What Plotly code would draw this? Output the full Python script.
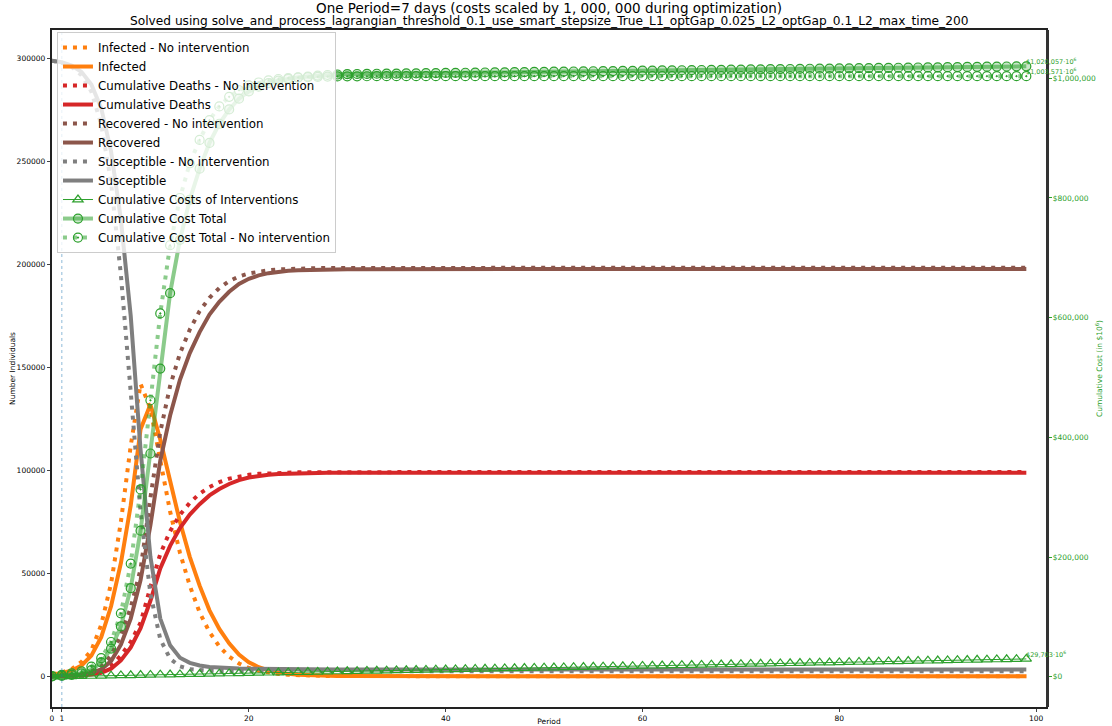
import plotly.graph_objects as go

periods = list(range(100))

susceptible = [
    299000, 298300, 296700, 293600, 287500, 276000, 255000, 222000, 175000, 110000,
    58000, 28000, 15000, 9000, 6500, 5200, 4500, 4100, 3850, 3700,
    3600, 3520, 3460, 3420, 3390, 3370, 3350, 3340, 3330, 3320,
    3310, 3305, 3300, 3300, 3300, 3300, 3300, 3300, 3300, 3300,
    3300, 3300, 3300, 3300, 3300, 3300, 3300, 3300, 3300, 3300,
    3300, 3300, 3300, 3300, 3300, 3300, 3300, 3300, 3300, 3300,
    3300, 3300, 3300, 3300, 3300, 3300, 3300, 3300, 3300, 3300,
    3300, 3300, 3300, 3300, 3300, 3300, 3300, 3300, 3300, 3300,
    3300, 3300, 3300, 3300, 3300, 3300, 3300, 3300, 3300, 3300,
    3300, 3300, 3300, 3300, 3300, 3300, 3300, 3300, 3300, 3300,
]
infected = [
    1000, 1500, 2800, 5200, 10000, 19000, 34000, 55000, 83000, 120000,
    132000, 115000, 95000, 75000, 58000, 44000, 32000, 23000, 16000, 10500,
    6800, 4400, 2800, 1800, 1150, 750, 480, 310, 200, 130,
    85, 55, 35, 22, 14, 9, 6, 4, 3, 2,
    1, 0, 0, 0, 0, 0, 0, 0, 0, 0,
    0, 0, 0, 0, 0, 0, 0, 0, 0, 0,
    0, 0, 0, 0, 0, 0, 0, 0, 0, 0,
    0, 0, 0, 0, 0, 0, 0, 0, 0, 0,
    0, 0, 0, 0, 0, 0, 0, 0, 0, 0,
    0, 0, 0, 0, 0, 0, 0, 0, 0, 0,
]
deaths = [
    0, 67, 167, 400, 833, 1667, 3667, 7667, 14000, 23333,
    36667, 52333, 63333, 72000, 78500, 83600, 87833, 90967, 93383, 95267,
    96533, 97360, 97913, 98260, 98487, 98627, 98723, 98783, 98823, 98850,
    98868, 98880, 98888, 98893, 98895, 98897, 98898, 98899, 98900, 98900,
    98900, 98900, 98900, 98900, 98900, 98900, 98900, 98900, 98900, 98900,
    98900, 98900, 98900, 98900, 98900, 98900, 98900, 98900, 98900, 98900,
    98900, 98900, 98900, 98900, 98900, 98900, 98900, 98900, 98900, 98900,
    98900, 98900, 98900, 98900, 98900, 98900, 98900, 98900, 98900, 98900,
    98900, 98900, 98900, 98900, 98900, 98900, 98900, 98900, 98900, 98900,
    98900, 98900, 98900, 98900, 98900, 98900, 98900, 98900, 98900, 98900,
]
recovered = [
    0, 133, 333, 800, 1667, 3333, 7333, 15333, 28000, 46667,
    73333, 104667, 126667, 144000, 157000, 167200, 175667, 181933, 186767, 190533,
    193067, 194720, 195827, 196520, 196973, 197253, 197447, 197567, 197647, 197700,
    197737, 197760, 197777, 197785, 197791, 197795, 197797, 197798, 197799, 197800,
    197800, 197800, 197800, 197800, 197800, 197800, 197800, 197800, 197800, 197800,
    197800, 197800, 197800, 197800, 197800, 197800, 197800, 197800, 197800, 197800,
    197800, 197800, 197800, 197800, 197800, 197800, 197800, 197800, 197800, 197800,
    197800, 197800, 197800, 197800, 197800, 197800, 197800, 197800, 197800, 197800,
    197800, 197800, 197800, 197800, 197800, 197800, 197800, 197800, 197800, 197800,
    197800, 197800, 197800, 197800, 197800, 197800, 197800, 197800, 197800, 197800,
]
susceptible_no = [
    299000, 298000, 296000, 292000, 284000, 268000, 240000, 195000, 138000, 80000,
    40000, 18000, 8500, 4800, 3400, 2900, 2700, 2600, 2550, 2500,
    2480, 2460, 2450, 2440, 2430, 2420, 2410, 2410, 2400, 2400,
    2400, 2400, 2400, 2400, 2400, 2400, 2400, 2400, 2400, 2400,
    2400, 2400, 2400, 2400, 2400, 2400, 2400, 2400, 2400, 2400,
    2400, 2400, 2400, 2400, 2400, 2400, 2400, 2400, 2400, 2400,
    2400, 2400, 2400, 2400, 2400, 2400, 2400, 2400, 2400, 2400,
    2400, 2400, 2400, 2400, 2400, 2400, 2400, 2400, 2400, 2400,
    2400, 2400, 2400, 2400, 2400, 2400, 2400, 2400, 2400, 2400,
    2400, 2400, 2400, 2400, 2400, 2400, 2400, 2400, 2400, 2400,
]
infected_no = [
    1000, 1800, 3500, 7000, 12500, 25000, 45000, 75000, 112000, 142000,
    130000, 104000, 80000, 60000, 44000, 31000, 21500, 14500, 9500, 6200,
    4000, 2600, 1700, 1100, 700, 450, 300, 190, 120, 80,
    50, 30, 20, 12, 8, 5, 3, 2, 1, 0,
    0, 0, 0, 0, 0, 0, 0, 0, 0, 0,
    0, 0, 0, 0, 0, 0, 0, 0, 0, 0,
    0, 0, 0, 0, 0, 0, 0, 0, 0, 0,
    0, 0, 0, 0, 0, 0, 0, 0, 0, 0,
    0, 0, 0, 0, 0, 0, 0, 0, 0, 0,
    0, 0, 0, 0, 0, 0, 0, 0, 0, 0,
]
deaths_no = [
    0, 67, 167, 333, 1167, 2333, 5000, 10000, 16667, 26000,
    43333, 59333, 70500, 78400, 84200, 88700, 91933, 94300, 95983, 97100,
    97840, 98313, 98617, 98820, 98957, 99043, 99097, 99133, 99160, 99173,
    99183, 99190, 99193, 99196, 99197, 99198, 99199, 99200, 99200, 99200,
    99200, 99200, 99200, 99200, 99200, 99200, 99200, 99200, 99200, 99200,
    99200, 99200, 99200, 99200, 99200, 99200, 99200, 99200, 99200, 99200,
    99200, 99200, 99200, 99200, 99200, 99200, 99200, 99200, 99200, 99200,
    99200, 99200, 99200, 99200, 99200, 99200, 99200, 99200, 99200, 99200,
    99200, 99200, 99200, 99200, 99200, 99200, 99200, 99200, 99200, 99200,
    99200, 99200, 99200, 99200, 99200, 99200, 99200, 99200, 99200, 99200,
]
recovered_no = [
    0, 133, 333, 667, 2333, 4667, 10000, 20000, 33333, 52000,
    86667, 118667, 141000, 156800, 168400, 177400, 183867, 188600, 191967, 194200,
    195680, 196627, 197233, 197640, 197913, 198087, 198193, 198267, 198320, 198347,
    198367, 198380, 198387, 198392, 198395, 198397, 198398, 198399, 198400, 198400,
    198400, 198400, 198400, 198400, 198400, 198400, 198400, 198400, 198400, 198400,
    198400, 198400, 198400, 198400, 198400, 198400, 198400, 198400, 198400, 198400,
    198400, 198400, 198400, 198400, 198400, 198400, 198400, 198400, 198400, 198400,
    198400, 198400, 198400, 198400, 198400, 198400, 198400, 198400, 198400, 198400,
    198400, 198400, 198400, 198400, 198400, 198400, 198400, 198400, 198400, 198400,
    198400, 198400, 198400, 198400, 198400, 198400, 198400, 198400, 198400, 198400,
]
cost_interventions = [
    0, 300, 600, 900, 1200, 1500, 1800, 2100, 2400, 2700,
    3000, 3300, 3600, 3900, 4200, 4500, 4800, 5100, 5400, 5700,
    6000, 6300, 6600, 6900, 7200, 7500, 7800, 8100, 8400, 8700,
    9000, 9300, 9600, 9900, 10200, 10500, 10800, 11100, 11400, 11700,
    12000, 12300, 12600, 12900, 13200, 13500, 13800, 14100, 14400, 14700,
    15000, 15300, 15600, 15900, 16200, 16500, 16800, 17100, 17400, 17700,
    18000, 18300, 18600, 18900, 19200, 19500, 19800, 20100, 20400, 20700,
    21000, 21300, 21600, 21900, 22200, 22500, 22800, 23100, 23400, 23700,
    24000, 24300, 24600, 24900, 25200, 25500, 25800, 26100, 26400, 26700,
    27000, 27300, 27600, 27900, 28200, 28500, 28800, 29100, 29400, 29703,
]
cost_total = [
    700, 1500, 3000, 5500, 11000, 24000, 47000, 84000, 148000, 244000,
    373000, 515000, 641000, 730000, 797000, 849000, 892000, 924000, 948000, 966000,
    978000, 986000, 992000, 996000, 999000, 1001500, 1003000, 1004500, 1005500, 1006300,
    1007000, 1007190, 1007380, 1007570, 1007760, 1007950, 1008140, 1008330, 1008520, 1008710,
    1008900, 1009090, 1009280, 1009470, 1009660, 1009850, 1010040, 1010230, 1010420, 1010610,
    1010800, 1010990, 1011180, 1011370, 1011560, 1011750, 1011940, 1012130, 1012320, 1012510,
    1012700, 1012890, 1013080, 1013270, 1013460, 1013650, 1013840, 1014030, 1014220, 1014410,
    1014600, 1014790, 1014980, 1015170, 1015360, 1015550, 1015740, 1015930, 1016120, 1016310,
    1016500, 1016690, 1016880, 1017070, 1017260, 1017450, 1017640, 1017830, 1018020, 1018210,
    1018400, 1018590, 1018780, 1018970, 1019160, 1019350, 1019540, 1019730, 1019920, 1020057,
]
cost_total_no = [
    1000, 3000, 5500, 9000, 17000, 31000, 58000, 106000, 189000, 313000,
    462000, 607000, 721000, 800000, 858000, 897000, 930000, 953000, 969000, 980000,
    988000, 993000, 996500, 998800, 1000300, 1001300, 1002000, 1002500, 1002900, 1003100,
    1003250, 1003350, 1003420, 1003470, 1003500, 1003520, 1003535, 1003545, 1003552, 1003558,
    1003562, 1003565, 1003567, 1003569, 1003570, 1003571, 1003571, 1003571, 1003571, 1003571,
    1003571, 1003571, 1003571, 1003571, 1003571, 1003571, 1003571, 1003571, 1003571, 1003571,
    1003571, 1003571, 1003571, 1003571, 1003571, 1003571, 1003571, 1003571, 1003571, 1003571,
    1003571, 1003571, 1003571, 1003571, 1003571, 1003571, 1003571, 1003571, 1003571, 1003571,
    1003571, 1003571, 1003571, 1003571, 1003571, 1003571, 1003571, 1003571, 1003571, 1003571,
    1003571, 1003571, 1003571, 1003571, 1003571, 1003571, 1003571, 1003571, 1003571, 1003571,
]

left_ticks = [0, 50000, 100000, 150000, 200000, 250000, 300000]
left_tick_text = ["0", "50000", "100000", "150000", "200000", "250000", "300000"]
right_ticks = [0, 200000, 400000, 600000, 800000, 1000000]
right_tick_text = ["$0", "$200,000", "$400,000", "$600,000", "$800,000", "$1,000,000"]
x_ticks = [0, 1, 20, 40, 60, 80, 100]

end_labels = [
    (1020057, "$1,020,057\u00b710<sup>6</sup>"),
    (1003571, "$1,003,571\u00b710<sup>6</sup>"),
    (29703, "$29,703\u00b710<sup>6</sup>"),
]

ORANGE = "#ff7f0e"
RED = "#d62728"
BROWN = "#8c564b"
GREY = "#7f7f7f"
GREEN = "#2ca02c"
DOT = "4px,6px"
FONT = "DejaVu Sans, Arial, sans-serif"

fig = go.Figure()

pop_series = [
    ("Infected - No intervention", infected_no, ORANGE, DOT),
    ("Infected", infected, ORANGE, "solid"),
    ("Cumulative Deaths - No intervention", deaths_no, RED, DOT),
    ("Cumulative Deaths", deaths, RED, "solid"),
    ("Recovered - No intervention", recovered_no, BROWN, DOT),
    ("Recovered", recovered, BROWN, "solid"),
    ("Susceptible - No intervention", susceptible_no, GREY, DOT),
    ("Susceptible", susceptible, GREY, "solid"),
]
for name, vals, col, dash in pop_series:
    fig.add_trace(go.Scatter(
        x=periods, y=vals, name=name, mode="lines",
        line=dict(color=col, width=4, dash=dash),
        yaxis="y",
    ))

fig.add_trace(go.Scatter(
    x=periods, y=cost_interventions, name="Cumulative Costs of Interventions",
    mode="lines+markers",
    line=dict(color=GREEN, width=1),
    marker=dict(symbol="triangle-up-open", size=9, color=GREEN, line=dict(width=1.2)),
    yaxis="y2",
))
fig.add_trace(go.Scatter(
    x=periods, y=cost_total, name="Cumulative Cost Total",
    mode="lines+markers",
    line=dict(color="rgba(44,160,44,0.55)", width=4),
    marker=dict(symbol="circle", size=9, color="rgba(44,160,44,0.25)",
                line=dict(color=GREEN, width=1.2)),
    yaxis="y2",
))
fig.add_trace(go.Scatter(
    x=periods, y=cost_total_no, name="Cumulative Cost Total - No intervention",
    mode="lines+markers",
    line=dict(color="rgba(44,160,44,0.55)", width=4, dash=DOT),
    marker=dict(symbol="circle-open-dot", size=9, color=GREEN, line=dict(width=1.2)),
    yaxis="y2",
))

annotations = [
    dict(text="One Period=7 days (costs scaled by 1, 000, 000 during optimization)",
         x=0.5, y=1, xref="paper", yref="paper", yanchor="middle", yshift=22,
         showarrow=False, font=dict(size=13.5, color="#000", family=FONT)),
    dict(text="Solved using solve_and_process_lagrangian_threshold_0.1_use_smart_stepsize_True_L1_optGap_0.025_L2_optGap_0.1_L2_max_time_200",
         x=0.5, y=1, xref="paper", yref="paper", yanchor="middle", yshift=9,
         showarrow=False, font=dict(size=12.2, color="#000", family=FONT)),
]
for val, txt in end_labels:
    annotations.append(dict(
        text=txt, x=periods[-1], y=val, xref="x", yref="y2",
        xanchor="left", yanchor="bottom", showarrow=False,
        font=dict(size=6.5, color=GREEN, family=FONT), xshift=-2, yshift=-2,
    ))

fig.update_layout(
    width=1112, height=726,
    margin=dict(l=52, r=66, t=30, b=19),
    paper_bgcolor="white", plot_bgcolor="white",
    font=dict(family=FONT, color="#000"),
    showlegend=True,
    legend=dict(
        x=0.005, y=0.997, xanchor="left", yanchor="top",
        bgcolor="rgba(255,255,255,0.8)", bordercolor="#cccccc", borderwidth=1,
        font=dict(size=11.8, family=FONT, color="#000"),
        itemwidth=30, tracegroupgap=0,
    ),
    xaxis=dict(
        range=[0, 101], tickvals=x_ticks, ticks="outside", ticklen=3.5,
        tickfont=dict(size=7.5), showgrid=False, zeroline=False, automargin=False,
        showline=True, linecolor="#222", linewidth=1.5, mirror=True,
        title=dict(text="Period", font=dict(size=7.5), standoff=2),
    ),
    yaxis=dict(
        range=[-14950, 313950], tickvals=left_ticks, ticktext=left_tick_text,
        ticks="outside", ticklen=3.5, automargin=False,
        tickfont=dict(size=7.5), showgrid=False, zeroline=False,
        showline=True, linecolor="#222", linewidth=1.5, mirror=True,
        title=dict(text="Number Individuals", font=dict(size=7.5), standoff=0),
    ),
    yaxis2=dict(
        overlaying="y", side="right", automargin=False,
        range=[-50600, 1080700], tickvals=right_ticks, ticktext=right_tick_text,
        ticks="outside", ticklen=3.5, tickcolor=GREEN, ticklabelstandoff=-1,
        tickfont=dict(size=7.5, color=GREEN), showgrid=False, zeroline=False,
        showline=True, linecolor="#333", linewidth=2.5,
        title=dict(text="Cumulative Cost (in $10<sup>6</sup>)", font=dict(size=7.5, color=GREEN), standoff=2),
    ),
    shapes=[dict(type="line", xref="x", yref="paper", x0=1, x1=1, y0=0, y1=1,
                 line=dict(color="rgba(31,119,180,0.5)", width=1, dash="dot"))],
    annotations=annotations,
)

fig.write_html(
    "out.html",
    config={"displayModeBar": False},
    post_script="document.body.style.margin='0px';document.body.style.overflow='hidden';",
)
